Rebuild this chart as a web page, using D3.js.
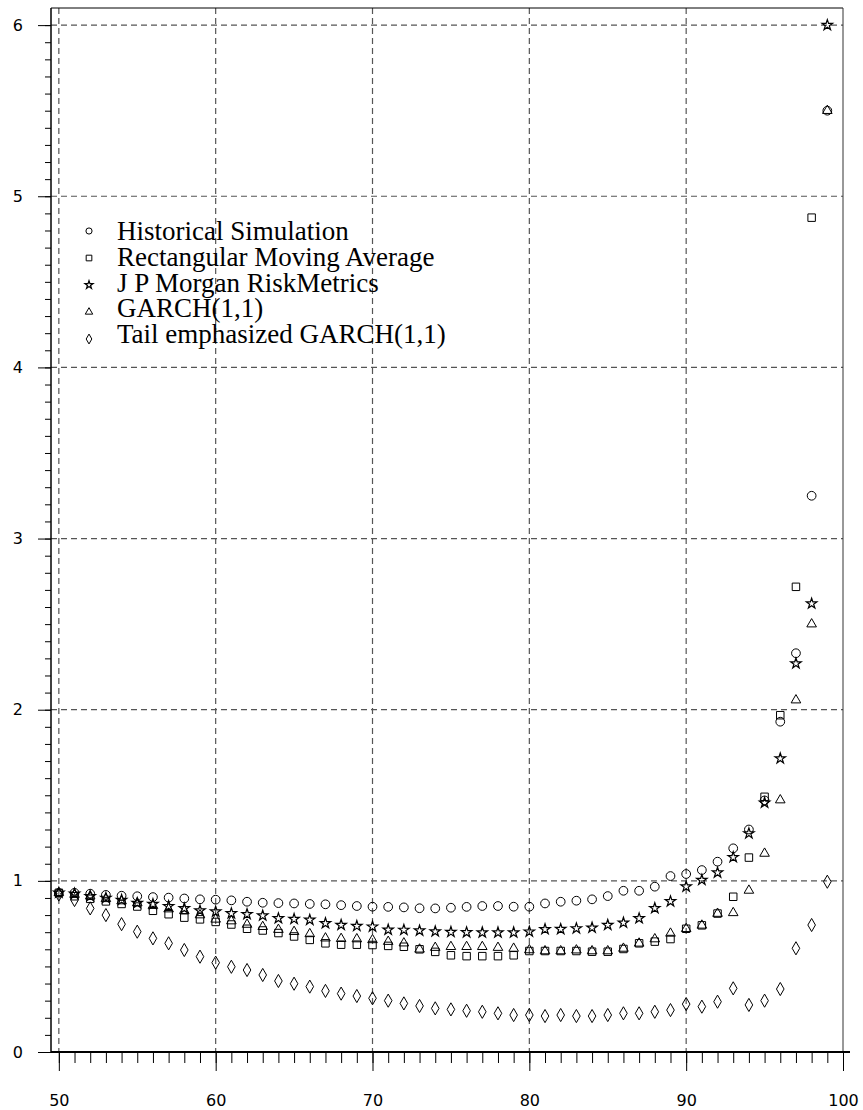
<!DOCTYPE html>
<html>
<head>
<meta charset="utf-8">
<script src="https://cdn.jsdelivr.net/npm/d3@7"></script>
<style>
  body { margin: 0; background: #fff; }
  svg { display: block; }
</style>
</head>
<body>
<div id="chart"></div>
<script>
// confidence level on x, one value per level 50..99
let levels = d3.range(50, 100)
let seriesNames = ["Historical Simulation", "Rectangular Moving Average", "J P Morgan RiskMetrics", "GARCH(1,1)", "Tail emphasized GARCH(1,1)"]
let historical = [0.93, 0.93, 0.925, 0.918, 0.913, 0.91, 0.905, 0.902, 0.897, 0.892,
    0.89, 0.886, 0.878, 0.872, 0.87, 0.868, 0.865, 0.863, 0.858, 0.853,
    0.849, 0.848, 0.845, 0.84, 0.839, 0.843, 0.848, 0.853, 0.853, 0.849,
    0.849, 0.868, 0.878, 0.884, 0.892, 0.911, 0.942, 0.942, 0.966, 1.028,
    1.04, 1.063, 1.112, 1.19, 1.3, 1.47, 1.93, 2.33, 3.25, 5.5]
let rectMA = [0.93, 0.91, 0.895, 0.88, 0.865, 0.85, 0.825, 0.805, 0.785, 0.775,
    0.76, 0.745, 0.72, 0.71, 0.695, 0.675, 0.655, 0.635, 0.627, 0.627,
    0.625, 0.62, 0.615, 0.6, 0.585, 0.565, 0.56, 0.56, 0.56, 0.565,
    0.59, 0.59, 0.59, 0.59, 0.586, 0.586, 0.602, 0.635, 0.645, 0.66,
    0.72, 0.74, 0.809, 0.907, 1.136, 1.491, 1.968, 2.718, 4.875, null]
let jpMorgan = [0.93, 0.925, 0.91, 0.9, 0.888, 0.87, 0.864, 0.852, 0.839, 0.826,
    0.82, 0.81, 0.805, 0.797, 0.781, 0.777, 0.772, 0.752, 0.742, 0.736,
    0.732, 0.714, 0.713, 0.709, 0.704, 0.701, 0.699, 0.698, 0.698, 0.698,
    0.703, 0.717, 0.718, 0.722, 0.726, 0.742, 0.755, 0.781, 0.84, 0.88,
    0.966, 1.005, 1.048, 1.138, 1.277, 1.456, 1.715, 2.27, 2.62, 6.0]
let garch = [0.93, 0.92, 0.91, 0.895, 0.882, 0.87, 0.855, 0.835, 0.825, 0.8,
    0.775, 0.765, 0.745, 0.732, 0.715, 0.703, 0.69, 0.665, 0.662, 0.66,
    0.655, 0.645, 0.636, 0.6, 0.61, 0.615, 0.615, 0.615, 0.61, 0.605,
    0.596, 0.59, 0.59, 0.595, 0.59, 0.59, 0.605, 0.635, 0.66, 0.693,
    0.72, 0.74, 0.809, 0.813, 0.944, 1.16, 1.472, 2.056, 2.5, 5.5]
let tailGarch = [0.92, 0.888, 0.839, 0.8, 0.747, 0.703, 0.664, 0.635, 0.596, 0.557,
    0.522, 0.498, 0.479, 0.45, 0.415, 0.399, 0.382, 0.357, 0.341, 0.327,
    0.314, 0.3, 0.284, 0.269, 0.255, 0.249, 0.241, 0.235, 0.226, 0.216,
    0.216, 0.21, 0.216, 0.21, 0.21, 0.216, 0.226, 0.226, 0.235, 0.245,
    0.28, 0.265, 0.294, 0.372, 0.275, 0.3, 0.368, 0.606, 0.742, 0.995]
let xTicks = [50, 60, 70, 80, 90, 100]
let yTicks = [0, 1, 2, 3, 4, 5, 6]

let width = 863, height = 1110
let plotLeft = 51, plotRight = 843, plotTop = 8, plotBottom = 1052

let svg = d3.select("#chart").append("svg")
    .attr("width", width)
    .attr("height", height)

let x = d3.scaleLinear().domain([49.5, 100]).range([plotLeft, plotRight])
let y = d3.scaleLinear().domain([0, 6.1]).range([plotBottom, plotTop])

// grid
let grid = svg.append("g")
    .attr("stroke", "#555")
    .attr("stroke-width", 1.2)
    .attr("stroke-dasharray", "6,4")
grid.selectAll(".vg").data(xTicks.filter(d => d < 100)).enter().append("line")
    .attr("x1", d => x(d)).attr("x2", d => x(d))
    .attr("y1", plotTop).attr("y2", plotBottom)
grid.selectAll(".hg").data(yTicks.filter(d => d > 0)).enter().append("line")
    .attr("x1", plotLeft).attr("x2", plotRight)
    .attr("y1", d => y(d)).attr("y2", d => y(d))

// frame
svg.append("line").attr("x1", plotLeft).attr("x2", plotRight).attr("y1", plotTop).attr("y2", plotTop)
    .attr("stroke", "#000").attr("stroke-width", 1)
svg.append("line").attr("x1", plotRight).attr("x2", plotRight).attr("y1", plotTop).attr("y2", plotBottom)
    .attr("stroke", "#333").attr("stroke-width", 1)

// axes
let xAxis = d3.axisBottom(x).tickValues(xTicks).tickSize(19).tickPadding(24).tickFormat(d3.format("d"))
let xMinor = d3.axisBottom(x).tickValues(d3.range(50, 101)).tickSize(11).tickFormat("")
let yAxis = d3.axisLeft(y).tickValues(yTicks).tickSize(13).tickPadding(15).tickFormat(d3.format("d"))
let yMinor = d3.axisLeft(y).tickValues(d3.range(0, 61).map(d => d / 10)).tickSize(6).tickFormat("")

let gx = svg.append("g").attr("transform", `translate(0,${plotBottom})`)
gx.call(xMinor)
gx.append("g").call(xAxis)
gx.selectAll(".domain").remove()
gx.append("line").attr("x1", plotLeft).attr("x2", 850).attr("stroke", "#000").attr("stroke-width", 2)

let gy = svg.append("g").attr("transform", `translate(${plotLeft},0)`)
gy.call(yMinor)
gy.append("g").call(yAxis)
gy.selectAll(".domain").remove()
gy.append("line").attr("y1", plotTop).attr("y2", plotBottom).attr("stroke", "#000").attr("stroke-width", 1.5)

svg.selectAll(".tick line").attr("stroke", "#000")
svg.selectAll(".tick text")
    .attr("fill", "#000")
    .attr("font-family", "DejaVu Sans, sans-serif")
    .attr("font-size", 16)

// markers
let symbols = [
    { data: historical, type: d3.symbolCircle, size: 60, legendSize: 30, sw: 1 },
    { data: rectMA, type: d3.symbolSquare, size: 56, legendSize: 32, sw: 1 },
    { data: jpMorgan, type: d3.symbolStar, size: 34, legendSize: 20, sw: 1.2 },
    { data: garch, type: d3.symbolTriangle, size: 40, legendSize: 24, sw: 1 },
    { data: tailGarch, type: d3.symbolDiamond, size: 50, legendSize: 28, sw: 1 }
]

symbols.forEach(s => {
    let pts = levels.map((lv, i) => ({ lv: lv, v: s.data[i] })).filter(d => d.v != null)
    svg.append("g").selectAll("path").data(pts).enter().append("path")
        .attr("d", d3.symbol().type(s.type).size(s.size))
        .attr("transform", d => `translate(${x(d.lv)},${y(d.v)})`)
        .attr("fill", "none")
        .attr("stroke", "#000")
        .attr("stroke-width", s.sw)
})

// legend
let legend = svg.append("g")
seriesNames.forEach((name, i) => {
    let s = symbols[i]
    legend.append("path")
        .attr("d", d3.symbol().type(s.type).size(s.legendSize))
        .attr("transform", `translate(89,${231 + i * 27})`)
        .attr("fill", "none")
        .attr("stroke", "#000")
        .attr("stroke-width", s.sw)
    legend.append("text")
        .attr("x", 117)
        .attr("y", 240 + i * 25.8)
        .attr("font-family", "Liberation Serif, Times New Roman, serif")
        .attr("font-size", 27)
        .text(name)
})
</script>
</body>
</html>
